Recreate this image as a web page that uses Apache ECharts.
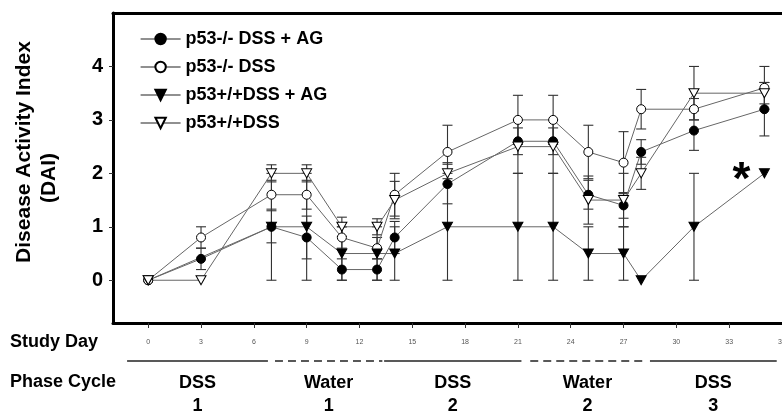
<!DOCTYPE html>
<html>
<head>
<meta charset="utf-8">
<script src="https://cdn.jsdelivr.net/npm/echarts@6/dist/echarts.min.js"></script>
<style>
  html, body { margin: 0; padding: 0; background: #fff; }
  #chart { width: 782px; height: 412px; }
</style>
</head>
<body>
<div id="chart"></div>
<script>
// study days of each measurement
var days = [0, 3, 7, 9, 11, 13, 14, 17, 21, 23, 25, 27, 28, 31, 35];

// p53-/- DSS + AG (filled circle)
var koAgVals = [0, 0.4, 1.0, 0.8, 0.2, 0.2, 0.8, 1.8, 2.6, 2.6, 1.6, 1.4, 2.4, 2.8, 3.2];
var koAgErr  = [0, 0.2, 0.3, 0.4, 0.2, 0.2, 0.3, 0.37, 0.25, 0.25, 0.27, 0.24, 0.23, 0.37, 0.5];
// p53-/- DSS (open circle)
var koVals = [0, 0.8, 1.6, 1.6, 0.8, 0.6, 1.6, 2.4, 3.0, 3.0, 2.4, 2.2, 3.2, 3.2, 3.6];
var koErr  = [0, 0.2, 0.27, 0.27, 0.2, 0.2, 0.4, 0.5, 0.46, 0.46, 0.5, 0.58, 0.37, 0.2, 0.4];
// p53+/+ DSS + AG (filled triangle), no value on day 3
var wtAgVals = [0, null, 1, 1, 0.5, 0.5, 0.5, 1, 1, 1, 0.5, 0.5, 0, 1, 2];
var wtAgErr  = [0, null, 1, 1, 0.5, 0.5, 0.5, 1, 1, 1, 0.5, 0.5, 0, 1, 0];
// p53+/+ DSS (open triangle)
var wtVals = [0, 0, 2, 2, 1, 1, 1.5, 2, 2.5, 2.5, 1.5, 1.5, 2, 3.5, 3.5];
var wtErr  = [0, 0, 0.16, 0.16, 0.18, 0.15, 0.35, 0.2, 0.5, 0.5, 0.45, 0.5, 0.3, 0.5, 0.2];

var dayTicks = [0, 3, 6, 9, 12, 15, 18, 21, 24, 27, 30, 33, 36];
var daiTicks = [0, 1, 2, 3, 4];

// phase cycles along the day axis
var phaseStart = [-1.2, 7.2, 13.4, 21.7, 28.5];
var phaseEnd   = [6.8, 13.3, 21.2, 28.2, 35.7];
var phaseName  = ['DSS', 'Water', 'DSS', 'Water', 'DSS'];
var phaseNum   = ['1', '1', '2', '2', '3'];
var phaseDashed = [false, true, false, true, false];

// significance mark (day, DAI)
var starPoint = [33.7, 1.85];

var FONT = '"Liberation Sans", Arial, sans-serif';

function pts(vals) {
    var out = [];
    days.forEach(function (d, i) {
        if (vals[i] !== null) out.push([d, vals[i]]);
    });
    return out;
}
function errPts(vals, err) {
    var out = [];
    days.forEach(function (d, i) {
        if (vals[i] !== null && err[i]) out.push([d, vals[i] - err[i], vals[i] + err[i]]);
    });
    return out;
}

function renderErr(params, api) {
    var lo = api.coord([api.value(0), api.value(1)]);
    var hi = api.coord([api.value(0), api.value(2)]);
    var w = 5;
    var st = { stroke: '#333', lineWidth: 1.1 };
    return {
        type: 'group',
        children: [
            { type: 'line', shape: { x1: lo[0], y1: lo[1], x2: hi[0], y2: hi[1] }, style: st },
            { type: 'line', shape: { x1: hi[0] - w, y1: hi[1], x2: hi[0] + w, y2: hi[1] }, style: st },
            { type: 'line', shape: { x1: lo[0] - w, y1: lo[1], x2: lo[0] + w, y2: lo[1] }, style: st }
        ]
    };
}

function errSeries(vals, err) {
    return {
        type: 'custom',
        renderItem: renderErr,
        data: errPts(vals, err),
        encode: { x: 0, y: [1, 2] },
        z: 2,
        silent: true
    };
}

function lineSeries(name, vals, symbol, fill, rotate) {
    return {
        name: name,
        type: 'line',
        data: pts(vals),
        symbol: symbol,
        symbolSize: symbol === 'circle' ? 9 : [10, 9],
        symbolRotate: rotate || 0,
        showAllSymbol: true,
        connectNulls: true,
        lineStyle: { color: '#666', width: 1 },
        itemStyle: { color: fill, borderColor: '#000', borderWidth: 1, opacity: 1 },
        z: 3,
        animation: false
    };
}

var chart = echarts.init(document.getElementById('chart'));

var option = {
    animation: false,
    grid: { left: 113, right: 0, top: 13, bottom: 89, outerBoundsMode: 'none' },
    legend: {
        orient: 'vertical',
        left: 135,
        top: 25,
        itemWidth: 40,
        itemHeight: 13,
        itemGap: 10,
        selectedMode: false,
        lineStyle: { color: '#222', width: 1.2 },
        textStyle: { fontFamily: FONT, fontWeight: 'bold', fontSize: 18, color: '#000', lineHeight: 18 },
        data: ['p53-/- DSS + AG', 'p53-/- DSS', 'p53+/+DSS + AG', 'p53+/+DSS']
    },
    xAxis: [{
        type: 'value',
        min: -2,
        max: 36,
        axisLine: { onZero: false, lineStyle: { color: '#000', width: 3 } },
        axisTick: { show: true, length: 5, customValues: dayTicks, lineStyle: { color: '#333', width: 1 } },
        axisLabel: { customValues: dayTicks, fontSize: 7, color: '#555', margin: 16, fontFamily: FONT },
        splitLine: { show: false }
    }, {
        type: 'value',
        position: 'top',
        min: -2,
        max: 36,
        axisLine: { show: true, onZero: false, lineStyle: { color: '#000', width: 3 } },
        axisTick: { show: false },
        axisLabel: { show: false },
        splitLine: { show: false }
    }],
    yAxis: {
        type: 'value',
        min: -0.8,
        max: 5,
        axisLine: { show: true, onZero: false, lineStyle: { color: '#000', width: 3 } },
        axisTick: { show: true, length: 4, customValues: daiTicks, lineStyle: { color: '#333' } },
        axisLabel: { customValues: daiTicks, fontFamily: FONT, fontWeight: 'bold', fontSize: 20, color: '#000', margin: 10 },
        splitLine: { show: false }
    },
    series: [
        errSeries(koAgVals, koAgErr),
        errSeries(koVals, koErr),
        errSeries(wtAgVals, wtAgErr),
        errSeries(wtVals, wtErr),
        lineSeries('p53-/- DSS + AG', koAgVals, 'circle', '#000'),
        lineSeries('p53-/- DSS', koVals, 'circle', '#fff'),
        lineSeries('p53+/+DSS + AG', wtAgVals, 'triangle', '#000', 180),
        lineSeries('p53+/+DSS', wtVals, 'triangle', '#fff', 180)
    ]
};
chart.setOption(option);

// texts outside the grid, phase bars placed through the day axis
var txt = function (text, x, y, size, extra) {
    var o = {
        type: 'text',
        x: x, y: y,
        style: {
            text: text, fontFamily: FONT, fontWeight: 'bold', fontSize: size, fill: '#000',
            textAlign: 'center', textVerticalAlign: 'middle'
        }
    };
    if (extra) Object.assign(o, extra);
    return o;
};

var star = chart.convertToPixel({ xAxisIndex: 0, yAxisIndex: 0 }, starPoint);

var graphics = [
    txt('Disease Activity Index', 24, 152, 21, { rotation: Math.PI / 2 }),
    txt('(DAI)', 49, 178, 21, { rotation: Math.PI / 2 }),
    { type: 'text', x: 10, y: 342, style: { text: 'Study Day', fontFamily: FONT, fontWeight: 'bold', fontSize: 18, fill: '#000', textVerticalAlign: 'middle' } },
    { type: 'text', x: 10, y: 382, style: { text: 'Phase Cycle', fontFamily: FONT, fontWeight: 'bold', fontSize: 18, fill: '#000', textVerticalAlign: 'middle' } },
    txt('*', star[0], star[1], 46, { z: 10 })
];

phaseStart.forEach(function (s, i) {
    var x1 = chart.convertToPixel({ xAxisIndex: 0 }, s);
    var x2 = chart.convertToPixel({ xAxisIndex: 0 }, phaseEnd[i]);
    graphics.push({
        type: 'line',
        shape: { x1: x1, y1: 361, x2: x2, y2: 361 },
        style: { stroke: '#222', lineWidth: 1.5, lineDash: phaseDashed[i] ? [8, 5] : null }
    });
    graphics.push(txt(phaseName[i], (x1 + x2) / 2, 383, 18));
    graphics.push(txt(phaseNum[i], (x1 + x2) / 2, 406, 18));
});

chart.setOption({ graphic: graphics });
</script>
</body>
</html>
